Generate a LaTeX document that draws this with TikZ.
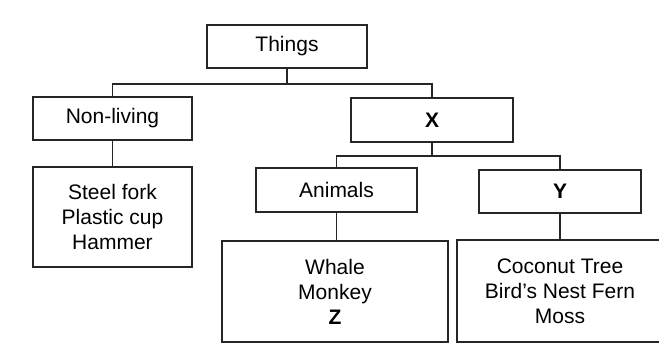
\documentclass[tikz,border=0pt]{standalone}
\usepackage{fontspec}
\setmainfont{Liberation Sans}
\usetikzlibrary{positioning}

\begin{document}
\begin{tikzpicture}[x=1pt,y=-1pt,
  box/.style={draw=black!85,line width=1.6pt,inner sep=0pt,align=center,font=\fontsize{21}{25}\selectfont},
  link/.style={draw=black!85,line width=1.6pt}]
  \clip (0,0) rectangle (659,363);
  \foreach \n/\x/\y/\w/\h/\txt in {things/287/46.5/160/43/Things, nonliving/112.5/118.5/159/43/Non-living,
    classx/432/120/162/44/\textbf{X}, items/112.5/217/159/100/{Steel fork\\Plastic cup\\Hammer},
    animals/336.5/190/161/44/Animals, classy/560/191.5/162/43/\textbf{Y},
    zoo/335/291.5/226/101/{Whale\\Monkey\\\textbf{Z}}, plants/560/291/206/102/{Coconut Tree\\Bird's Nest Fern\\Moss}}
    \node[box,minimum width=\w pt,minimum height=\h pt] (\n) at (\x,\y) {\txt};

  \draw[link] (things.south) -- ++(0,15) coordinate (j1);
  \draw[link] (nonliving.north) |- (j1) -| (classx.north);
  \draw[link] (classx.south) -- ++(0,13) coordinate (j2);
  \draw[link] (animals.north) |- (j2) -| (classy.north);
  \draw[link] (nonliving) -- (items);
  \draw[link] (animals.south) -- (animals.south |- zoo.north);
  \draw[link] (classy) -- (plants);
\end{tikzpicture}
\end{document}
